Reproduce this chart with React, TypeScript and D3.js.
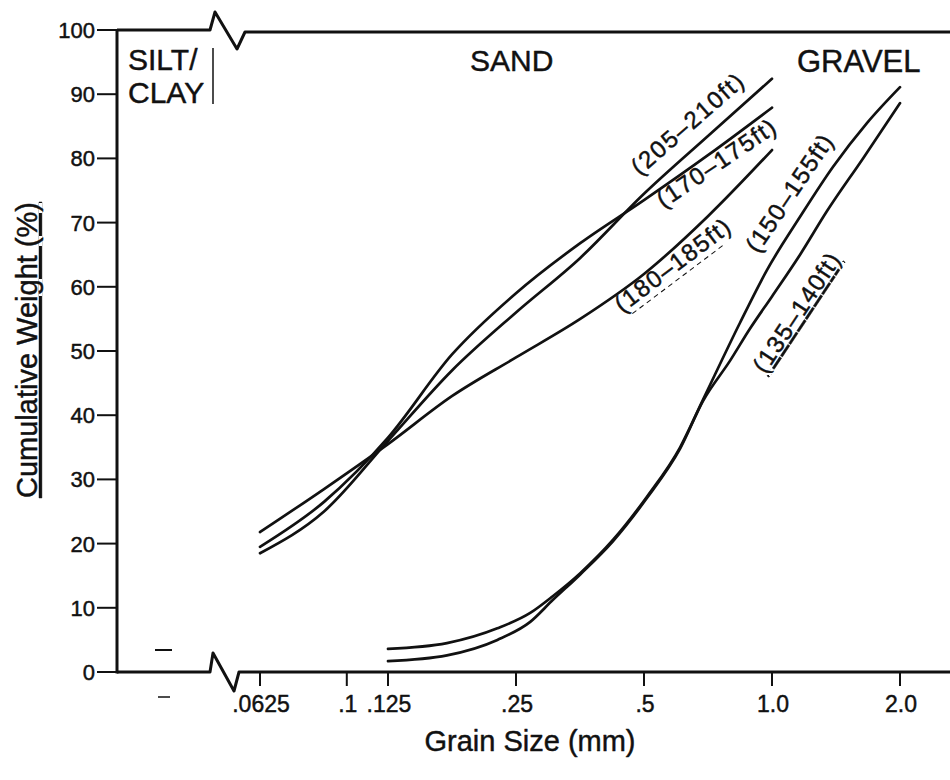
import React, { useRef, useEffect } from 'react';
import * as d3 from 'd3';

// y ticks (cumulative weight %)
const yTicks = [0, 10, 20, 30, 40, 50, 60, 70, 80, 90, 100];
// x ticks (grain size, mm) on a log scale
const xTicks = [0.0625, 0.1, 0.125, 0.25, 0.5, 1.0, 2.0];
const xTickLabels = ['.0625', '.1', '.125', '.25', '.5', '1.0', '2.0'];

// sand samples
const sand205 = [
  [0.0625, 18.5], [0.0884, 25], [0.125, 36], [0.177, 47], [0.25, 56],
  [0.354, 64.5], [0.5, 74.5], [0.707, 83.5], [1.0, 92.4],
];
const sand170 = [
  [0.0625, 19.5], [0.0884, 26.5], [0.125, 36.5], [0.177, 49.5], [0.25, 59],
  [0.354, 66.8], [0.5, 73.5], [0.707, 80.5], [1.0, 87.9],
];
const sand180 = [
  [0.0625, 21.8], [0.0884, 28.5], [0.125, 35.5], [0.177, 43], [0.25, 49],
  [0.354, 55], [0.5, 62], [0.707, 71], [1.0, 81.3],
];
// gravel samples
const gravel150 = [
  [0.125, 3.6], [0.172, 4.5], [0.226, 6.8], [0.27, 9.2], [0.305, 11.8],
  [0.354, 15.4], [0.423, 20.6], [0.508, 27.3], [0.608, 35], [0.688, 42.4],
  [0.841, 54.4], [0.973, 62.6], [1.164, 70.9], [1.392, 78.7], [1.672, 85.5], [2.0, 91.1],
];
const gravel135 = [
  [0.125, 1.7], [0.172, 2.6], [0.226, 5], [0.27, 7.8], [0.305, 11.2],
  [0.354, 15.2], [0.423, 20.4], [0.508, 27.1], [0.608, 34.8], [0.688, 42.2],
  [0.797, 48.5], [0.888, 53.5], [1.0, 58.5], [1.164, 65], [1.347, 71.8],
  [1.637, 80], [2.0, 88.6],
];

const seriesNames = ['(205–210ft)', '(170–175ft)', '(180–185ft)', '(150–155ft)', '(135–140ft)'];
const zoneNames = ['SILT/', 'CLAY', 'SAND', 'GRAVEL'];

function App() {
  const svgRef = useRef<SVGSVGElement>(null);

  useEffect(() => {
    const svg = d3.select(svgRef.current);
    svg.selectAll('*').remove();

    const width = 950;
    const axisX = 117;
    const breakX = 210;
    const ink = '#111';
    const font = '"Liberation Sans", Arial, Helvetica, sans-serif';

    const x = d3.scaleLog().domain([0.0625, 2]).range([260, 900]);
    const y = d3.scaleLinear().domain([0, 100]).range([672, 30]);
    const y0 = y(0);
    const yTop = y(100);

    // slight stroke on text to mimic the heavy print
    const g = svg.append('g')
      .attr('font-family', font)
      .attr('fill', ink)
      .attr('stroke-linejoin', 'round');

    const txt = (sel: any) => sel.attr('stroke', ink).attr('stroke-width', 0.45);

    // frame with the axis breaks
    g.append('path')
      .attr('d', `M${axisX},${yTop} H${breakX} L${breakX + 5},${yTop - 18} L${breakX + 27},${yTop + 19} L${breakX + 35},${yTop + 2} H${width}`)
      .attr('fill', 'none').attr('stroke', ink).attr('stroke-width', 3);
    g.append('path')
      .attr('d', `M${axisX},${y0} H${breakX} L${breakX + 3},${y0 - 19} L${breakX + 24},${y0 + 19} L${breakX + 29},${y0} H${width}`)
      .attr('fill', 'none').attr('stroke', ink).attr('stroke-width', 3);
    g.append('line')
      .attr('x1', axisX).attr('x2', axisX).attr('y1', yTop - 1).attr('y2', y0 + 1.5)
      .attr('stroke', ink).attr('stroke-width', 3);

    // y ticks
    yTicks.forEach(t => {
      g.append('line')
        .attr('x1', axisX - 20).attr('x2', axisX).attr('y1', y(t)).attr('y2', y(t))
        .attr('stroke', ink).attr('stroke-width', 2);
      g.append('text')
        .attr('x', axisX - 22).attr('y', y(t)).attr('dy', '0.36em')
        .attr('text-anchor', 'end').attr('font-size', 22)
        .call(txt)
        .text(t);
    });

    // x ticks
    xTicks.forEach((t, i) => {
      g.append('line')
        .attr('x1', x(t)).attr('x2', x(t)).attr('y1', y0).attr('y2', y0 + 14)
        .attr('stroke', ink).attr('stroke-width', 2);
      g.append('text')
        .attr('x', x(t) + 1).attr('y', y0 + 40)
        .attr('text-anchor', 'middle').attr('font-size', 23)
        .call(txt)
        .text(xTickLabels[i]);
    });

    // axis titles
    g.append('text')
      .attr('x', 530).attr('y', 751)
      .attr('text-anchor', 'middle').attr('font-size', 29)
      .call(txt)
      .text('Grain Size (mm)');
    g.append('text')
      .attr('transform', 'translate(37,350) rotate(-90)')
      .attr('text-anchor', 'middle').attr('font-size', 29)
      .attr('text-decoration', 'underline')
      .call(txt)
      .text('Cumulative Weight (%)');

    // zone labels
    g.append('text').attr('x', 128).attr('y', 70).attr('font-size', 30).call(txt).text(zoneNames[0]);
    g.append('text').attr('x', 128).attr('y', 103).attr('font-size', 30).call(txt).text(zoneNames[1]);
    g.append('text').attr('x', 470).attr('y', 71).attr('font-size', 30).call(txt).text(zoneNames[2]);
    g.append('text').attr('x', 797).attr('y', 72).attr('font-size', 31).call(txt).text(zoneNames[3]);
    g.append('line')
      .attr('x1', breakX + 3).attr('x2', breakX + 3).attr('y1', 48).attr('y2', 104)
      .attr('stroke', ink).attr('stroke-width', 1.5);

    // stray marks of the silt/clay column
    g.append('line').attr('x1', 155).attr('x2', 172).attr('y1', y0 - 22).attr('y2', y0 - 22)
      .attr('stroke', ink).attr('stroke-width', 2);
    g.append('line').attr('x1', 158).attr('x2', 170).attr('y1', y0 + 25).attr('y2', y0 + 25)
      .attr('stroke', ink).attr('stroke-width', 1.5);

    // curves
    const line = d3.line<number[]>()
      .x(d => x(d[0]))
      .y(d => y(d[1]))
      .curve(d3.curveMonotoneX);

    [sand205, sand170, sand180, gravel150, gravel135].forEach(s => {
      g.append('path')
        .datum(s)
        .attr('d', line)
        .attr('fill', 'none')
        .attr('stroke', ink)
        .attr('stroke-width', 2.7)
        .attr('stroke-linecap', 'round');
    });

    // curve labels, rotated along the lines
    const labelPos = [
      { gx: 0.631, gy: 85.4, a: -41, len: 140 },
      { gx: 0.738, gy: 79.3, a: -34, len: 138 },
      { gx: 0.582, gy: 63.4, a: -37, len: 138 },
      { gx: 1.096, gy: 74.6, a: -56, len: 136 },
      { gx: 1.14, gy: 56.0, a: -56.5, len: 138 },
    ];
    labelPos.forEach((p, i) => {
      const lg = g.append('g')
        .attr('transform', `translate(${x(p.gx)},${y(p.gy)}) rotate(${p.a})`);
      const t = lg.append('text')
        .attr('text-anchor', 'middle').attr('dy', '0.36em')
        .attr('font-size', 24)
        .attr('textLength', p.len).attr('lengthAdjust', 'spacing')
        .call(txt)
        .text(seriesNames[i]);
      if (i === 4) t.attr('text-decoration', 'underline');
      if (i === 2) {
        lg.append('line')
          .attr('x1', -p.len / 2 + 8).attr('x2', p.len / 2 - 14).attr('y1', 15).attr('y2', 15)
          .attr('stroke', ink).attr('stroke-width', 1).attr('stroke-dasharray', '5,4');
      }
    });
  }, []);

  return (
    <svg ref={svgRef} width={950} height={780}
      style={{ position: 'absolute', left: 0, top: 0, background: '#fff' }} />
  );
}

export default App;
